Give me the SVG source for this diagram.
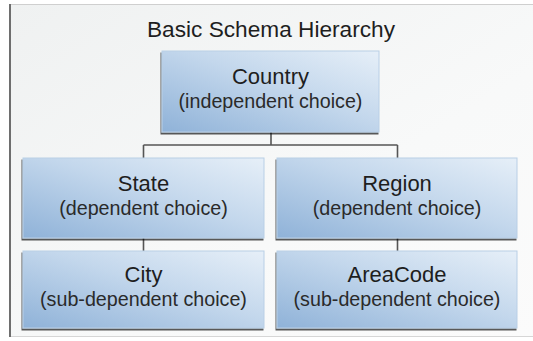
<svg xmlns="http://www.w3.org/2000/svg" width="533" height="341" viewBox="0 0 533 341">
<defs>
<linearGradient id="bg" x1="0" y1="0" x2="1" y2="1">
<stop offset="0" stop-color="#eff1f1"/>
<stop offset="0.6" stop-color="#f8f9f9"/>
<stop offset="1" stop-color="#fbfbfb"/>
</linearGradient>
<linearGradient id="boxfill" x1="0" y1="1" x2="1" y2="0">
<stop offset="0" stop-color="#8fb2d8"/>
<stop offset="0.55" stop-color="#c3d7ec"/>
<stop offset="1" stop-color="#e6eff8"/>
</linearGradient>
<filter id="sh" x="-5%" y="-5%" width="110%" height="115%">
<feGaussianBlur in="SourceAlpha" stdDeviation="0.5"/>
<feOffset dx="-1" dy="1.5" result="o"/>
<feComponentTransfer><feFuncA type="linear" slope="0.65"/></feComponentTransfer>
<feMerge><feMergeNode/><feMergeNode in="SourceGraphic"/></feMerge>
</filter>
</defs>
<style>
.box{fill:url(#boxfill);stroke:#b9cfe6;stroke-width:1;filter:url(#sh)}
.main{font-family:"Liberation Sans",Arial,sans-serif;font-size:22px;fill:#1e1e1e;text-anchor:middle}
.sub{font-family:"Liberation Sans",Arial,sans-serif;font-size:19.7px;fill:#2a2a2a;text-anchor:middle}
.title{font-family:"Liberation Sans",Arial,sans-serif;font-size:22px;fill:#1e1e1e;text-anchor:middle}
.conn{fill:none;stroke:#555;stroke-width:1.6}
</style>
<g id="frame">
<rect x="9" y="4" width="524" height="333" fill="url(#bg)"/>
<line x1="9" y1="4.5" x2="533" y2="4.5" stroke="#cfcfcf" stroke-width="1"/>
<line x1="9" y1="336.5" x2="533" y2="336.5" stroke="#d6d6d6" stroke-width="1"/>
<line x1="10" y1="4" x2="10" y2="337" stroke="#6e6e6e" stroke-width="2"/>
</g>
<text class="title" x="271" y="37" textLength="248" lengthAdjust="spacingAndGlyphs">Basic Schema Hierarchy</text>
<g id="connectors">
<path class="conn" d="M271 132 V145 M143.5 145 H397.5 M143.5 145 V158 M397.5 145 V158 M143.5 238 V251 M397.5 238 V251"/>
</g>
<g id="country">
<rect class="box" x="162" y="51" width="217" height="81"/>
<text class="main" x="270.5" y="84">Country</text>
<text class="sub" x="270.5" y="108">(independent choice)</text>
</g>
<g id="state">
<rect class="box" x="23" y="158" width="241" height="80"/>
<text class="main" x="143.5" y="191">State</text>
<text class="sub" x="143.5" y="215">(dependent choice)</text>
</g>
<g id="region">
<rect class="box" x="277" y="158" width="240" height="80"/>
<text class="main" x="397" y="191">Region</text>
<text class="sub" x="397" y="215">(dependent choice)</text>
</g>
<g id="city">
<rect class="box" x="23" y="251" width="241" height="77"/>
<text class="main" x="143.5" y="282">City</text>
<text class="sub" x="143.5" y="306">(sub-dependent choice)</text>
</g>
<g id="areacode">
<rect class="box" x="277" y="251" width="240" height="77"/>
<text class="main" x="397" y="282">AreaCode</text>
<text class="sub" x="397" y="306">(sub-dependent choice)</text>
</g>
</svg>
